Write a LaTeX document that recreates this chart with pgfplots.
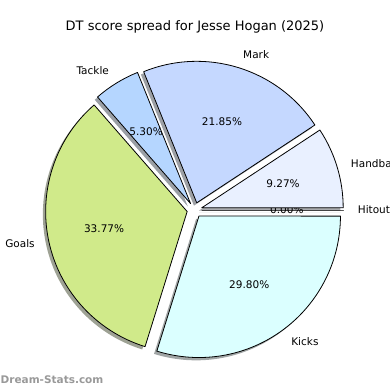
\documentclass[border=0pt]{standalone}
\usepackage{pgfplots}
\pgfplotsset{compat=1.18}
\usepackage{fontspec}
\setmainfont{DejaVu Sans}
\definecolor{cHit}{HTML}{DDE8FF}
\definecolor{cHand}{HTML}{E9F0FF}
\definecolor{cMark}{HTML}{C5D8FF}
\definecolor{cTack}{HTML}{B5D6FF}
\definecolor{cGoal}{HTML}{D0EA8A}
\definecolor{cKick}{HTML}{DBFFFF}
\definecolor{wm}{HTML}{999999}
% pie geometry (axis units = pt)
\def\cx{194.5}\def\cy{180}\def\R{141.5}\def\ex{7.5}
\def\startang{0}
\newcommand{\pieshadow}[2]{% #1 percent, #2 colour
  \pgfmathsetmacro\a{\startang}%
  \pgfmathsetmacro\b{\startang+3.6*#1}%
  \pgfmathsetmacro\m{(\a+\b)/2}%
  \pgfmathsetmacro\ox{\cx+\ex*cos(\m)-2.8}%
  \pgfmathsetmacro\oy{\cy+\ex*sin(\m)-2.8}%
  \edef\cmd{\noexpand\fill[#2!30!black,opacity=0.5] (axis cs:\ox,\oy) -- ++(\a:\R pt) arc[start angle=\a,end angle=\b,radius=\R pt] -- cycle;}%
  \cmd
  \xdef\startang{\b}}
\newcommand{\pieslice}[4]{% #1 percent, #2 colour, #3 label, #4 pct text
  \pgfmathsetmacro\a{\startang}%
  \pgfmathsetmacro\b{\startang+3.6*#1}%
  \pgfmathsetmacro\m{(\a+\b)/2}%
  \pgfmathsetmacro\ox{\cx+\ex*cos(\m)}%
  \pgfmathsetmacro\oy{\cy+\ex*sin(\m)}%
  \pgfmathsetmacro\lx{\ox+1.1*\R*cos(\m)}%
  \pgfmathsetmacro\ly{\oy+1.1*\R*sin(\m)}%
  \pgfmathsetmacro\px{\ox+0.6*\R*cos(\m)}%
  \pgfmathsetmacro\py{\oy+0.6*\R*sin(\m)}%
  \pgfmathsetmacro\cs{cos(\m)}%
  \ifdim\cs pt>0pt \def\anc{west}\else\def\anc{east}\fi
  \edef\cmd{\noexpand\filldraw[fill=#2,draw=black,line width=0.8pt,line join=round] (axis cs:\ox,\oy) -- ++(\a:\R pt) arc[start angle=\a,end angle=\b,radius=\R pt] -- cycle;
    \noexpand\node[anchor=\anc,inner sep=0pt,font=\noexpand\fontsize{10.5}{12}\noexpand\selectfont] at (axis cs:\lx,\ly) {#3};
    \noexpand\node[inner sep=0pt,font=\noexpand\fontsize{10.5}{12}\noexpand\selectfont] at (axis cs:\px,\py) {#4};}%
  \cmd
  \xdef\startang{\b}}
\begin{document}
\begin{tikzpicture}
\useasboundingbox (0,0) rectangle (390pt,390pt);
\begin{axis}[at={(0,0)},anchor=south west,scale only axis,width=390pt,height=390pt,
  xmin=0,xmax=390,ymin=0,ymax=390,hide axis,clip=false]
% shadows first
\pieshadow{0.00}{cHit}
\pieshadow{9.27}{cHand}
\pieshadow{21.85}{cMark}
\pieshadow{5.30}{cTack}
\pieshadow{33.77}{cGoal}
\pieshadow{29.80}{cKick}
\gdef\startang{0}
\pieslice{0.00}{cHit}{Hitout}{0.00\%}
\pieslice{9.27}{cHand}{Handball}{9.27\%}
\pieslice{21.85}{cMark}{Mark}{21.85\%}
\pieslice{5.30}{cTack}{Tackle}{5.30\%}
\pieslice{33.77}{cGoal}{Goals}{33.77\%}
\pieslice{29.80}{cKick}{Kicks}{29.80\%}
\node[anchor=base,inner sep=0pt,font=\fontsize{13}{15}\selectfont] at (axis cs:195,359.3) {DT score spread for Jesse Hogan (2025)};
\node[anchor=base west,inner sep=0pt,text=wm,font=\bfseries\fontsize{10.5}{12}\selectfont] at (axis cs:0.5,6) {Dream-Stats.com};
\end{axis}
\end{tikzpicture}
\end{document}
